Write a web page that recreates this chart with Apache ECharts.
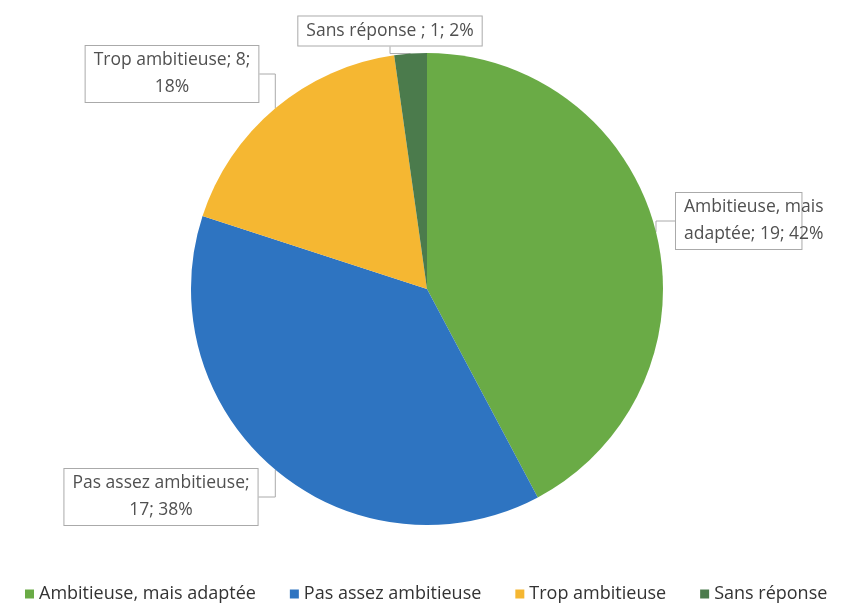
<!DOCTYPE html>
<html>
<head>
<meta charset="utf-8">
<script src="https://cdn.jsdelivr.net/npm/echarts@6/dist/echarts.min.js"></script>
<style>html,body{margin:0;padding:0;background:#fff}#c{width:841px;height:606px}</style>
</head>
<body>
<div id="c"></div>
<script>
var categories = ['Ambitieuse, mais adaptée', 'Pas assez ambitieuse', 'Trop ambitieuse', 'Sans réponse'];
var values = [19, 17, 8, 1];
var colors = ['#6aab46', '#2e74c1', '#f5b732', '#4b7b4c'];
var labelFormats = ['Ambitieuse, mais\nadaptée; {c}; {d}%', 'Pas assez ambitieuse;\n{c}; {d}%', 'Trop ambitieuse; {c};\n{d}%', 'Sans réponse ; {c}; {d}%'];
var labelSpots = [
  {x: 676, y: 221, align: 'left'},
  {x: 161, y: 497, align: 'center'},
  {x: 172, y: 74, align: 'center'},
  {x: 390, y: 31, align: 'center'}
];
var chart = echarts.init(document.getElementById('c'));
chart.setOption({
  animation: false,
  color: colors,
  legend: {
    bottom: -2,
    left: 20,
    itemWidth: 9,
    itemHeight: 9,
    itemGap: 34,
    icon: 'rect',
    textStyle: {fontFamily: 'Open Sans', fontSize: 18, color: '#333'},
    data: categories
  },
  series: [{
    type: 'pie',
    center: [427, 289],
    radius: 236,
    startAngle: 90,
    clockwise: true,
    percentPrecision: 0,
    data: categories.map(function (n, i) {
      return {name: n, value: values[i], label: {formatter: labelFormats[i]}};
    }),
    label: {
      show: true,
      position: 'outside',
      overflow: 'none',
      fontFamily: 'Open Sans',
      fontSize: 17.5,
      lineHeight: 27,
      color: '#505050',
      backgroundColor: '#fff',
      borderColor: '#aaa',
      borderWidth: 1,
      padding: [1, 8],
      align: 'center'
    },
    labelLine: {show: true, lineStyle: {color: '#aaa', width: 1}},
    labelLayout: function (p) {
      var s = labelSpots[p.dataIndex];
      return {x: s.x, y: s.y, align: s.align, verticalAlign: 'middle'};
    }
  }]
});
</script>
</body>
</html>
